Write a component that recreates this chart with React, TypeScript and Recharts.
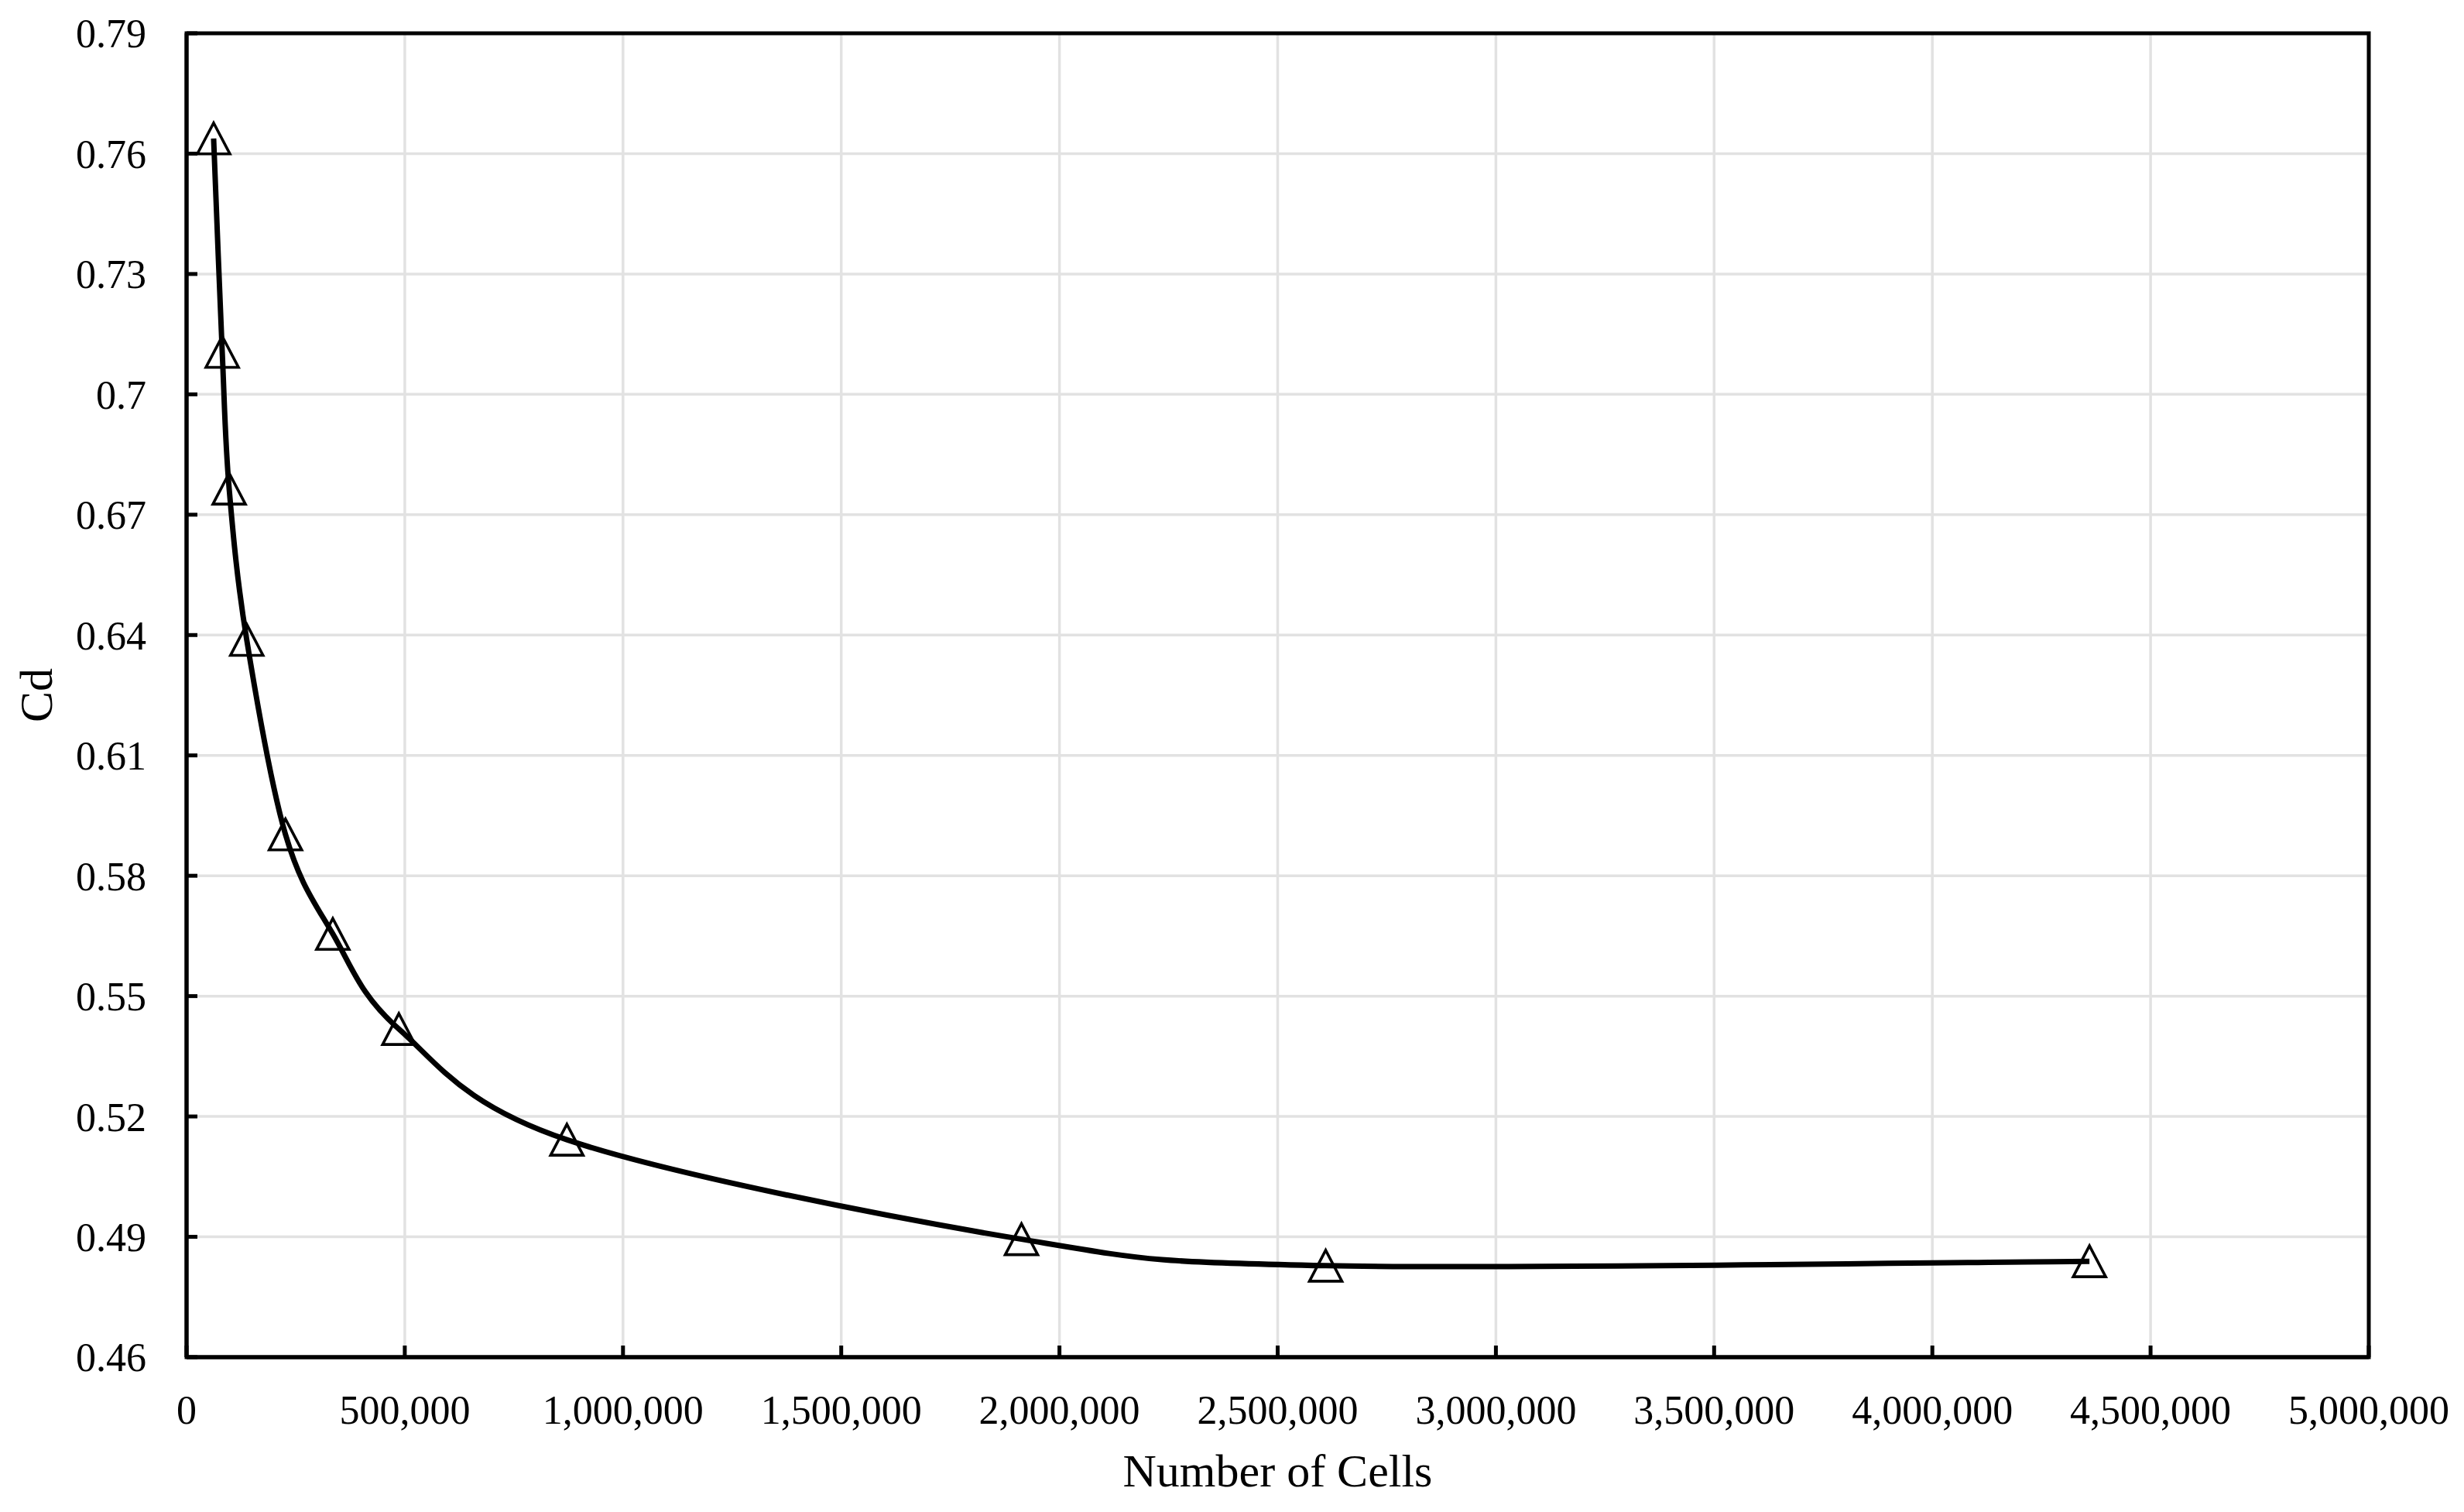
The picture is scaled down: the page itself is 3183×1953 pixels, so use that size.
import React from 'react';
import {
  ComposedChart,
  Line,
  XAxis,
  YAxis,
  CartesianGrid,
  ReferenceArea,
  Label,
} from 'recharts';

// ---- data ----
const cellCounts = [62000, 81700, 97600, 137900, 226600, 335100, 486400, 871400, 1913000, 2610000, 4360000];
const cdValues = [0.7638, 0.7106, 0.6765, 0.6388, 0.5903, 0.5655, 0.5418, 0.5142, 0.4894, 0.4828, 0.4839];
const xTicks = [0, 500000, 1000000, 1500000, 2000000, 2500000, 3000000, 3500000, 4000000, 4500000, 5000000];
const yTicks = [0.46, 0.49, 0.52, 0.55, 0.58, 0.61, 0.64, 0.67, 0.7, 0.73, 0.76, 0.79];
const xTitle = 'Number of Cells';
const yTitle = 'Cd';

const data = cellCounts.map((c, i) => ({ cells: c, cd: cdValues[i] }));

const FONT = '"Liberation Serif", "Times New Roman", serif';

// Excel-like smoothed line (uniform Catmull-Rom as cubic Bezier)
function excelCurve(context: any) {
  let pts: [number, number][] = [];
  return {
    areaStart() {},
    areaEnd() {},
    lineStart() {
      pts = [];
    },
    lineEnd() {
      const n = pts.length;
      if (n === 0) return;
      context.moveTo(pts[0][0], pts[0][1]);
      if (n === 1) return;
      for (let i = 0; i < n - 1; i++) {
        const p0 = pts[i - 1] || pts[i];
        const p1 = pts[i];
        const p2 = pts[i + 1];
        const p3 = pts[i + 2] || pts[i + 1];
        const c1x = p1[0] + (p2[0] - p0[0]) / 6;
        const c1y = p1[1] + (p2[1] - p0[1]) / 6;
        const c2x = p2[0] - (p3[0] - p1[0]) / 6;
        const c2y = p2[1] - (p3[1] - p1[1]) / 6;
        context.bezierCurveTo(c1x, c1y, c2x, c2y, p2[0], p2[1]);
      }
    },
    point(x: number, y: number) {
      pts.push([+x, +y]);
    },
  };
}

const TriangleDot = (props: any) => {
  const { cx, cy, index } = props;
  if (cx == null || cy == null) return <g key={`d${index}`} />;
  const hw = 21;
  const hh = 20;
  return (
    <polygon
      key={`d${index}`}
      points={`${cx - hw},${cy + hh} ${cx + hw},${cy + hh} ${cx},${cy - hh}`}
      fill="none"
      stroke="#000"
      strokeWidth={3.6}
      strokeLinejoin="miter"
    />
  );
};

const fmtX = (v: number) => v.toLocaleString('en-US');
const fmtY = (v: number) => String(v);

export default function App() {
  return (
    <div style={{ width: 3160, height: 1930, background: '#fff' }}>
      <ComposedChart
        width={3160}
        height={1930}
        data={data}
        margin={{ top: 35, right: 108, bottom: 0, left: 0 }}
      >
        <CartesianGrid stroke="#e2e2e2" strokeWidth={3.5} />
        <XAxis
          dataKey="cells"
          type="number"
          domain={[0, 5000000]}
          ticks={xTicks}
          tickFormatter={fmtX}
          interval={0}
          height={185}
          axisLine={{ stroke: '#000', strokeWidth: 5 }}
          tickLine={{ stroke: '#000', strokeWidth: 5 }}
          tickSize={-15}
          tickMargin={64}
          tick={{ fill: '#000', fontSize: 52, fontFamily: FONT }}
        >
          <Label
            content={(p: any) => {
              const vb = p.viewBox || {};
              return (
                <text
                  x={vb.x + vb.width / 2}
                  y={vb.y + 167}
                  textAnchor="middle"
                  fontSize={60}
                  fontFamily={FONT}
                  fill="#000"
                >
                  {xTitle}
                </text>
              );
            }}
          />
        </XAxis>
        <YAxis
          dataKey="cd"
          type="number"
          domain={[0.46, 0.79]}
          ticks={yTicks}
          tickFormatter={fmtY}
          interval={0}
          width={233}
          axisLine={{ stroke: '#000', strokeWidth: 5 }}
          tickLine={{ stroke: '#000', strokeWidth: 5 }}
          tickSize={-14}
          tickMargin={66}
          tick={{ fill: '#000', fontSize: 52, fontFamily: FONT }}
        >
          <Label
            content={(p: any) => {
              const vb = p.viewBox || {};
              const x = vb.x + 59;
              const y = vb.y + vb.height / 2;
              return (
                <text
                  x={x}
                  y={y}
                  transform={`rotate(-90, ${x}, ${y})`}
                  textAnchor="middle"
                  fontSize={60}
                  fontFamily={FONT}
                  fill="#000"
                >
                  {yTitle}
                </text>
              );
            }}
          />
        </YAxis>
        <ReferenceArea
          x1={0}
          x2={5000000}
          y1={0.46}
          y2={0.79}
          fill="none"
          fillOpacity={0}
          stroke="#000"
          strokeWidth={5}
          strokeOpacity={1}
        />
        <Line
          dataKey="cd"
          type={excelCurve as any}
          stroke="#000"
          strokeWidth={7}
          dot={TriangleDot}
          activeDot={false}
          isAnimationActive={false}
        />
      </ComposedChart>
    </div>
  );
}
